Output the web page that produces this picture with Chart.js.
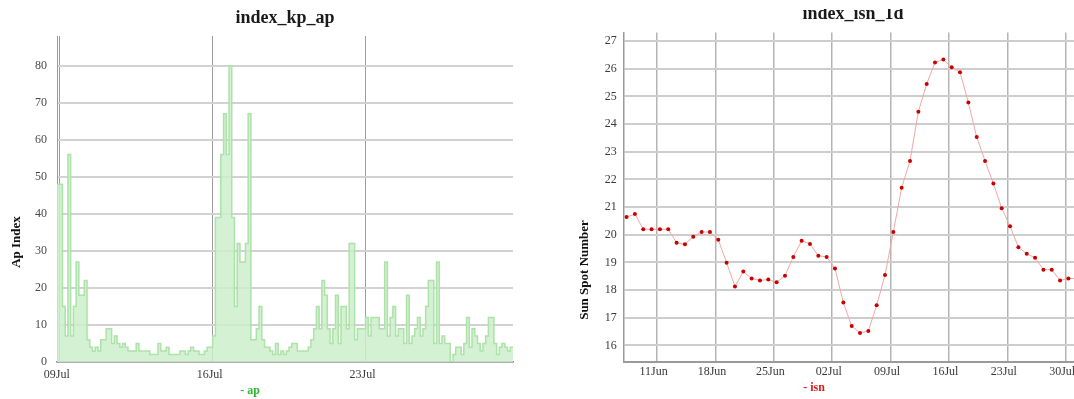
<!DOCTYPE html>
<html>
<head>
<meta charset="utf-8">
<script src="https://cdn.jsdelivr.net/npm/chart.js@4.4.0/dist/chart.umd.min.js"></script>
<style>
  html, body { margin: 0; padding: 0; background: #fff; overflow: hidden; }
  body { width: 1074px; height: 399px; position: relative; }
  #apBox { position: absolute; left: 0; top: 0; width: 537px; height: 399px; }
  #isnClip { position: absolute; left: 540px; top: 9px; width: 534px; height: 390px; overflow: hidden; }
  #isnBox { position: absolute; left: 0; top: -9px; width: 560px; height: 399px; }
</style>
</head>
<body>
<div id="apBox"><canvas id="apChart"></canvas></div>
<div id="isnClip"><div id="isnBox"><canvas id="isnChart"></canvas></div></div>
<script>
// ---- data ----
// 3-hourly ap index, first interval starts 2023-07-08 21:00 UTC
const apStart = Date.UTC(2023, 6, 8, 21);
const apStepHours = 3;
const apValues = [
  48, 48, 15, 7, 56, 7, 15, 27, 18, 18, 22,
  6, 4, 3, 4, 3, 6, 6, 9, 9, 5,
  7, 5, 4, 5, 4, 3, 3, 3, 5, 3,
  3, 3, 3, 2, 2, 2, 5, 3, 3, 4,
  2, 2, 2, 2, 3, 3, 2, 3, 4, 3,
  3, 2, 2, 3, 4, 4, 7, 39, 39, 56,
  67, 56, 80, 39, 15, 32, 27, 27, 32, 67,
  6, 6, 9, 15, 6, 4, 4, 3, 2, 5,
  2, 3, 2, 3, 4, 5, 5, 3, 3, 3,
  3, 4, 6, 9, 15, 9, 22, 18, 9, 5,
  9, 18, 5, 15, 15, 9, 32, 32, 6, 9,
  9, 9, 12, 7, 12, 12, 12, 9, 9, 27,
  7, 12, 15, 7, 9, 9, 5, 18, 5, 7,
  9, 12, 7, 9, 15, 22, 22, 5, 27, 5,
  7, 5, 5, 0, 2, 4, 4, 2, 5, 12,
  4, 9, 7, 5, 3, 5, 7, 12, 12, 5,
  2, 4, 5, 4, 3, 4, 4
];
const apTickLabels = ['09Jul', '16Jul', '23Jul'];

// daily sunspot number, one value per day from 2023-06-07
const isnStart = Date.UTC(2023, 5, 7);
const isnObsHour = 8;
const isnValues = [
  20.64, 20.75, 20.2, 20.2, 20.2, 20.2, 19.71, 19.66, 19.93, 20.1,
  20.1, 19.82, 18.99, 18.13, 18.67, 18.42, 18.35, 18.38, 18.28, 18.52,
  19.2, 19.78, 19.67, 19.24, 19.2, 18.78, 17.55, 16.7, 16.45, 16.52,
  17.45, 18.55, 20.1, 21.7, 22.67, 24.45, 25.45, 26.23, 26.33, 26.05,
  25.87, 24.78, 23.53, 22.67, 21.85, 20.96, 20.31, 19.55, 19.31, 19.17,
  18.74, 18.74, 18.35, 18.42, 18.42
];
const isnTickLabels = ['11Jun', '18Jun', '25Jun', '02Jul', '09Jul', '16Jul', '23Jul', '30Jul'];
const isnRangeStart = '07Jun';
const isnRangeEnd = '01Aug';

// ---- helpers (x values are days since the epoch) ----
const DAY_MS = 86400000;
const MONTHS = ['Jan', 'Feb', 'Mar', 'Apr', 'May', 'Jun', 'Jul', 'Aug', 'Sep', 'Oct', 'Nov', 'Dec'];
function labelToDay(lbl) {
  const d = parseInt(lbl.slice(0, 2), 10);
  const m = MONTHS.indexOf(lbl.slice(2));
  return Date.UTC(2023, m, d) / DAY_MS;
}
function dayToLabel(v) {
  const dt = new Date(Math.round(v * DAY_MS));
  return String(dt.getUTCDate()).padStart(2, '0') + MONTHS[dt.getUTCMonth()];
}

const apPoints = apValues.map((v, i) => ({ x: (apStart + i * apStepHours * 3600000) / DAY_MS, y: v }));
const isnPoints = isnValues.map((v, i) => ({ x: (isnStart + i * DAY_MS + isnObsHour * 3600000) / DAY_MS, y: v }));

// free-standing texts: rotated axis captions and the series key
const sideTexts = {
  id: 'sideTexts',
  afterDraw(chart, args, opts) {
    const ctx = chart.ctx;
    (opts.items || []).forEach(it => {
      ctx.save();
      ctx.font = it.font;
      ctx.fillStyle = it.color;
      ctx.textAlign = 'center';
      ctx.textBaseline = 'middle';
      ctx.translate(it.x, it.y);
      if (it.rotate) ctx.rotate(it.rotate);
      ctx.fillText(it.text, 0, 0);
      ctx.restore();
    });
  }
};

Chart.defaults.font.family = "'Liberation Serif', 'Times New Roman', serif";
Chart.defaults.animation = false;

const serif = "'Liberation Serif', 'Times New Roman', serif";

// ---- left: ap index ----
new Chart(document.getElementById('apChart'), {
  type: 'line',
  data: {
    datasets: [{
      label: 'ap',
      data: apPoints,
      stepped: 'before',
      fill: 'origin',
      backgroundColor: 'rgba(205,238,203,0.85)',
      borderColor: '#ade2a9',
      borderWidth: 1.5,
      pointRadius: 0,
      tension: 0
    }]
  },
  options: {
    responsive: true,
    maintainAspectRatio: false,
    layout: { padding: { left: 0, right: 24, top: 0, bottom: 0 } },
    plugins: {
      legend: { display: false },
      tooltip: { enabled: false },
      title: {
        display: true,
        text: 'index_kp_ap',
        fullSize: false,
        color: '#1a1a1a',
        font: { family: serif, size: 18, weight: 'bold' },
        padding: { top: 8, bottom: 6.4 }
      },
      sideTexts: {
        items: [
          { text: 'Ap Index', x: 16.7, y: 242, rotate: -Math.PI / 2, font: 'bold 13px ' + serif, color: '#111' },
          { text: '- ap', x: 250, y: 391, font: 'bold 12px ' + serif, color: '#2fb52f' }
        ]
      }
    },
    scales: {
      x: {
        type: 'linear',
        min: apPoints[0].x,
        max: apPoints[apPoints.length - 1].x,
        afterBuildTicks: s => { s.ticks = apTickLabels.map(l => ({ value: labelToDay(l) })); },
        afterFit: s => { s.height = 37; },
        ticks: {
          callback: v => dayToLabel(v),
          autoSkip: false, maxRotation: 0, minRotation: 0,
          padding: 6, labelOffset: -3,
          color: '#3a3a3a',
          font: { family: serif, size: 12 }
        },
        grid: { color: '#9c9c9c', lineWidth: 1, drawTicks: false },
        border: { color: '#8a8a8a', width: 1.5 }
      },
      y: {
        type: 'linear',
        min: 0,
        max: 88,
        afterFit: s => { s.width = 57; },
        ticks: {
          stepSize: 10, includeBounds: false,
          padding: 10,
          color: '#4a4a4a',
          font: { family: serif, size: 12 }
        },
        grid: { color: '#d2d2d2', lineWidth: 2, drawTicks: false },
        border: { color: '#9a9a9a', width: 1 }
      }
    }
  },
  plugins: [sideTexts]
});

// ---- right: daily sunspot number ----
new Chart(document.getElementById('isnChart'), {
  type: 'line',
  data: {
    datasets: [{
      label: 'isn',
      data: isnPoints,
      fill: false,
      borderColor: '#f2a6a6',
      borderWidth: 1,
      pointRadius: 2,
      pointBackgroundColor: '#c90000',
      pointBorderWidth: 0,
      tension: 0
    }]
  },
  options: {
    responsive: true,
    maintainAspectRatio: false,
    layout: { padding: { left: 0, right: 17.7, top: 0, bottom: 0 } },
    plugins: {
      legend: { display: false },
      tooltip: { enabled: false },
      title: {
        display: true,
        text: 'index_isn_1d',
        fullSize: false,
        color: '#1a1a1a',
        font: { family: serif, size: 18, weight: 'bold' },
        padding: { top: 3.4, bottom: 7.5 }
      },
      sideTexts: {
        items: [
          { text: 'Sun Spot Number', x: 44.4, y: 270, rotate: -Math.PI / 2, font: 'bold 13px ' + serif, color: '#111' },
          { text: '- isn', x: 274, y: 387.5, font: 'bold 12px ' + serif, color: '#d42020' }
        ]
      }
    },
    scales: {
      x: {
        type: 'linear',
        min: labelToDay(isnRangeStart),
        max: labelToDay(isnRangeEnd),
        afterBuildTicks: s => { s.ticks = isnTickLabels.map(l => ({ value: labelToDay(l) })); },
        afterFit: s => { s.height = 37.5; },
        ticks: {
          callback: v => dayToLabel(v),
          autoSkip: false, maxRotation: 0, minRotation: 0,
          padding: 3, labelOffset: -3.5,
          color: '#3a3a3a',
          font: { family: serif, size: 12 }
        },
        grid: { color: '#b4b4b4', lineWidth: 1.5, drawTicks: false },
        border: { color: '#9a9a9a', width: 2 }
      },
      y: {
        type: 'linear',
        min: 15.42,
        max: 27.31,
        afterFit: s => { s.width = 83.8; },
        ticks: {
          stepSize: 1, includeBounds: false,
          padding: 7,
          color: '#3a3a3a',
          font: { family: serif, size: 12 }
        },
        grid: { color: '#cdcdcd', lineWidth: 2, drawTicks: false },
        border: { color: '#9a9a9a', width: 1.5 }
      }
    }
  },
  plugins: [sideTexts]
});
</script>
</body>
</html>
